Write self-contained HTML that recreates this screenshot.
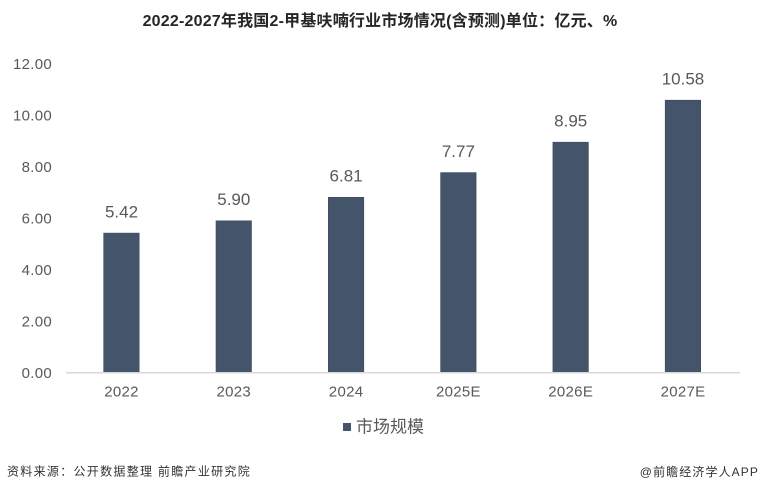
<!DOCTYPE html>
<html>
<head>
<meta charset="utf-8">
<style>
  html, body { margin:0; padding:0; background:#fff; }
  body { width:760px; height:492px; overflow:hidden; }
  svg { display:block; }
  .t { font-family:"Liberation Sans","Noto Sans CJK SC",sans-serif; }
</style>
</head>
<body>
<svg width="760" height="492" viewBox="0 0 760 492" xmlns="http://www.w3.org/2000/svg">
  <rect width="760" height="492" fill="#ffffff"/>
  <!-- title -->
  <text class="t" x="380" y="26" text-anchor="middle" font-size="16" font-weight="bold" fill="#262626" letter-spacing="0.2">2022-2027年我国2-甲基呋喃行业市场情况(含预测)单位：亿元、%</text>

  <!-- y tick labels -->
  <g class="t" font-size="15" fill="#595959" text-anchor="end" letter-spacing="0.3">
    <text x="52" y="69">12.00</text>
    <text x="52" y="120.5">10.00</text>
    <text x="52" y="172">8.00</text>
    <text x="52" y="223.5">6.00</text>
    <text x="52" y="275">4.00</text>
    <text x="52" y="326.5">2.00</text>
    <text x="52" y="378">0.00</text>
  </g>

  <!-- bars -->
  <g fill="#44546A" stroke="#3d4b60" stroke-width="0.6">
    <rect x="103.7" y="233.1" width="35.5" height="139.7"/>
    <rect x="216.0" y="220.8" width="35.5" height="152.0"/>
    <rect x="328.3" y="197.3" width="35.5" height="175.5"/>
    <rect x="440.6" y="172.6" width="35.5" height="200.2"/>
    <rect x="552.9" y="142.2" width="35.5" height="230.6"/>
    <rect x="665.2" y="100.2" width="35.5" height="272.6"/>
  </g>

  <!-- axis line -->
  <line x1="66" y1="372.8" x2="740" y2="372.8" stroke="#d9d9d9" stroke-width="1.5"/>

  <!-- data labels -->
  <g class="t" font-size="17" fill="#595959" text-anchor="middle">
    <text x="121.5" y="217.5">5.42</text>
    <text x="233.8" y="205.2">5.90</text>
    <text x="346.1" y="181.7">6.81</text>
    <text x="458.4" y="157.0">7.77</text>
    <text x="570.7" y="126.6">8.95</text>
    <text x="683.0" y="84.6">10.58</text>
  </g>

  <!-- category labels -->
  <g class="t" font-size="15" fill="#595959" text-anchor="middle" letter-spacing="0.3">
    <text x="121.5" y="396.5">2022</text>
    <text x="233.8" y="396.5">2023</text>
    <text x="346.1" y="396.5">2024</text>
    <text x="458.4" y="396.5">2025E</text>
    <text x="570.7" y="396.5">2026E</text>
    <text x="683.0" y="396.5">2027E</text>
  </g>

  <!-- legend -->
  <rect x="343" y="423" width="8" height="8" fill="#44546A"/>
  <text class="t" x="356" y="432.5" font-size="17" fill="#595959">市场规模</text>

  <!-- footer -->
  <text class="t" x="7" y="475.5" font-size="12" fill="#333333" letter-spacing="1.3">资料来源：公开数据整理 前瞻产业研究院</text>
  <text class="t" x="759" y="476" font-size="12" fill="#333333" text-anchor="end" letter-spacing="1.1">@前瞻经济学人APP</text>
</svg>
</body>
</html>
